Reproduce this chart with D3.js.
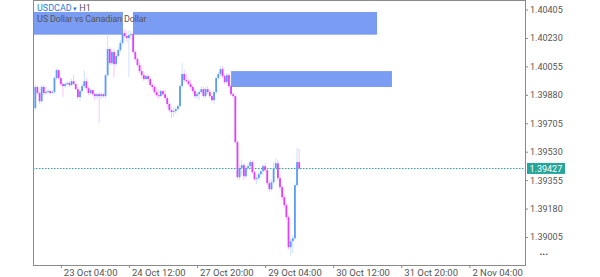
<!DOCTYPE html>
<html>
<head>
<meta charset="utf-8">
<script src="https://cdn.jsdelivr.net/npm/d3@7"></script>
<style>
body { margin: 0; background: #fff; }
svg { display: block; font-family: Roboto, "Noto Sans", sans-serif; }
</style>
</head>
<body>
<div id="chart"></div>
<script>
var width = 600;
var height = 277;

var symbol = "USDCAD";
var timeframe = "H1";
var description = "US Dollar vs Canadian Dollar";

// H1 candles, [open, high, low, close]
var ohlc = [
  [1.39798,1.39940,1.39780,1.39928],[1.39928,1.39934,1.39878,1.39891],[1.39891,1.39903,1.39823,1.39841],
  [1.39841,1.39940,1.39829,1.39928],[1.39928,1.39940,1.39878,1.39891],[1.39891,1.39934,1.39878,1.39897],
  [1.39897,1.39915,1.39884,1.39903],[1.39903,1.39909,1.39878,1.39891],[1.39891,1.39909,1.39884,1.39897],
  [1.39897,1.39995,1.39884,1.39983],[1.39983,1.40045,1.39971,1.40032],[1.40032,1.40038,1.39971,1.39983],
  [1.39983,1.39989,1.39934,1.39946],[1.39946,1.39958,1.39866,1.39934],[1.39934,1.39958,1.39921,1.39946],
  [1.39946,1.39964,1.39934,1.39952],[1.39952,1.39964,1.39928,1.39940],[1.39940,1.39977,1.39934,1.39964],
  [1.39964,1.40001,1.39940,1.39946],[1.39946,1.39952,1.39909,1.39915],[1.39915,1.39928,1.39854,1.39866],
  [1.39866,1.39915,1.39841,1.39903],[1.39903,1.39946,1.39891,1.39934],[1.39934,1.40032,1.39921,1.39964],
  [1.39964,1.39983,1.39909,1.39921],[1.39921,1.39934,1.39878,1.39891],[1.39891,1.39921,1.39878,1.39909],
  [1.39909,1.39915,1.39872,1.39884],[1.39884,1.39897,1.39847,1.39872],[1.39872,1.39891,1.39854,1.39884],
  [1.39884,1.39897,1.39706,1.39872],[1.39872,1.39897,1.39854,1.39884],[1.39884,1.39891,1.39860,1.39872],
  [1.39872,1.40008,1.39860,1.40001],[1.40001,1.40248,1.39989,1.40162],[1.40162,1.40174,1.40063,1.40075],
  [1.40075,1.40156,1.40063,1.40143],[1.40143,1.40162,1.39989,1.40069],[1.40069,1.40137,1.40057,1.40119],
  [1.40119,1.40174,1.40106,1.40156],[1.40156,1.40217,1.40143,1.40199],[1.40199,1.40266,1.40186,1.40260],
  [1.40260,1.40285,1.40229,1.40242],[1.40242,1.40273,1.40205,1.40229],[1.40229,1.40279,1.39989,1.40248],
  [1.40248,1.40273,1.40217,1.40254],[1.40254,1.40266,1.40131,1.40143],[1.40143,1.40156,1.40088,1.40100],
  [1.40100,1.40112,1.40051,1.40063],[1.40063,1.40082,1.40014,1.40026],[1.40026,1.40057,1.39983,1.40001],
  [1.40001,1.40020,1.39964,1.39977],[1.39977,1.40008,1.39971,1.39995],[1.39995,1.40008,1.39958,1.39977],
  [1.39977,1.39989,1.39928,1.39940],[1.39940,1.39952,1.39909,1.39928],[1.39928,1.39940,1.39884,1.39897],
  [1.39897,1.39921,1.39866,1.39878],[1.39878,1.39909,1.39854,1.39872],[1.39872,1.39915,1.39866,1.39903],
  [1.39903,1.39909,1.39872,1.39884],[1.39884,1.39909,1.39847,1.39860],[1.39860,1.39872,1.39798,1.39823],
  [1.39823,1.39835,1.39774,1.39786],[1.39786,1.39804,1.39737,1.39774],[1.39774,1.39804,1.39743,1.39780],
  [1.39780,1.39804,1.39761,1.39792],[1.39792,1.39823,1.39780,1.39811],[1.39811,1.39946,1.39798,1.39934],
  [1.39934,1.40075,1.39921,1.40008],[1.40008,1.40032,1.39958,1.39971],[1.39971,1.40008,1.39952,1.39964],
  [1.39964,1.39977,1.39934,1.39946],[1.39946,1.39971,1.39915,1.39928],[1.39928,1.39940,1.39891,1.39903],
  [1.39903,1.39921,1.39860,1.39872],[1.39872,1.39897,1.39854,1.39884],[1.39884,1.39909,1.39847,1.39897],
  [1.39897,1.39934,1.39884,1.39915],[1.39915,1.39928,1.39860,1.39872],[1.39872,1.39928,1.39860,1.39915],
  [1.39915,1.39934,1.39884,1.39897],[1.39897,1.39909,1.39860,1.39872],[1.39872,1.39884,1.39835,1.39847],
  [1.39847,1.39909,1.39823,1.39897],[1.39897,1.39995,1.39884,1.39983],[1.39983,1.40020,1.39971,1.40008],
  [1.40008,1.40057,1.39995,1.40038],[1.40038,1.40057,1.39983,1.39995],[1.39995,1.40008,1.39946,1.39958],
  [1.39958,1.40014,1.39952,1.40001],[1.40001,1.40014,1.39921,1.39934],[1.39934,1.39946,1.39872,1.39884],
  [1.39884,1.39897,1.39860,1.39872],[1.39872,1.39878,1.39576,1.39589],[1.39589,1.39601,1.39361,1.39373],
  [1.39373,1.39459,1.39355,1.39429],[1.39429,1.39478,1.39385,1.39447],[1.39447,1.39459,1.39355,1.39379],
  [1.39379,1.39447,1.39367,1.39429],[1.39429,1.39459,1.39416,1.39441],[1.39441,1.39478,1.39429,1.39466],
  [1.39466,1.39478,1.39392,1.39404],[1.39404,1.39416,1.39349,1.39361],[1.39361,1.39385,1.39330,1.39367],
  [1.39367,1.39404,1.39355,1.39392],[1.39392,1.39416,1.39373,1.39410],[1.39410,1.39453,1.39385,1.39441],
  [1.39441,1.39459,1.39404,1.39416],[1.39416,1.39429,1.39318,1.39336],[1.39336,1.39355,1.39281,1.39299],
  [1.39299,1.39361,1.39287,1.39342],[1.39342,1.39466,1.39330,1.39429],[1.39429,1.39490,1.39416,1.39459],
  [1.39459,1.39478,1.39349,1.39367],[1.39367,1.39385,1.39293,1.39312],[1.39312,1.39324,1.39231,1.39250],
  [1.39250,1.39268,1.39182,1.39201],[1.39201,1.39213,1.39108,1.39127],[1.39127,1.39139,1.38930,1.38942],
  [1.38942,1.38997,1.38887,1.38979],[1.38979,1.39016,1.38905,1.38997],[1.38997,1.39336,1.38985,1.39324],
  [1.39324,1.39552,1.39312,1.39466],[1.39466,1.39546,1.39416,1.39427]
];

// time axis: bar index of each label
var timeTickBars = [12, 44, 76, 108, 140, 172, 204];
var timeTickLabels = ["23 Oct 04:00", "24 Oct 12:00", "27 Oct 20:00", "29 Oct 04:00",
                      "30 Oct 12:00", "31 Oct 20:00", "2 Nov 04:00"];

var priceTicks = [1.39005, 1.39180, 1.39355, 1.39530, 1.39705, 1.39880, 1.40055, 1.40230, 1.40405];
var lastPrice = 1.39427;

// zones: [from bar, to bar, top price, bottom price]
var zones = [
  [-2, 41.2, 1.40390, 1.40250],
  [45.9, 160.6, 1.40390, 1.40250],
  [92.0, 167.6, 1.40026, 1.39928]
];

var upColor = "#5b9cf6";
var downColor = "#e040fb";

var plot = {left: 33, right: 525, top: 0, bottom: 265};

var svg = d3.select("#chart")
    .append("svg")
    .attr("width", width)
    .attr("height", height);

var x = d3.scaleLinear()
    .domain([-1.08, 230.12])
    .range([plot.left, plot.right]);

var y = d3.scaleLinear()
    .domain([1.388327, 1.404635])
    .range([plot.bottom, plot.top]);

svg.append("defs").append("clipPath")
    .attr("id", "plot-clip")
    .append("rect")
    .attr("x", plot.left)
    .attr("y", plot.top)
    .attr("width", plot.right - plot.left)
    .attr("height", plot.bottom - plot.top);

var inner = svg.append("g").attr("clip-path", "url(#plot-clip)");

// zones
inner.selectAll(".zone")
    .data(zones)
    .enter()
    .append("rect")
        .attr("class", "zone")
        .attr("x", d => x(d[0]))
        .attr("y", d => y(d[2]))
        .attr("width", d => x(d[1]) - x(d[0]))
        .attr("height", d => y(d[3]) - y(d[2]))
        .style("fill", "#7a9cf2");

// last price line
inner.append("line")
    .attr("x1", plot.left)
    .attr("x2", plot.right)
    .attr("y1", Math.round(y(lastPrice)) + 0.5)
    .attr("y2", Math.round(y(lastPrice)) + 0.5)
    .style("stroke", "#26a69a")
    .style("stroke-width", 1)
    .style("stroke-dasharray", "1.5,1.5");

// candles
var candle = inner.append("g")
    .selectAll("g")
    .data(ohlc)
    .enter()
    .append("g");

candle.append("line")
    .attr("x1", (d, i) => x(i))
    .attr("x2", (d, i) => x(i))
    .attr("y1", d => y(d[1]))
    .attr("y2", d => y(d[2]))
    .style("stroke", d => d[3] >= d[0] ? upColor : downColor)
    .style("stroke-opacity", 0.3)
    .style("stroke-width", 1);

candle.append("rect")
    .attr("x", (d, i) => x(i) - 0.9)
    .attr("width", 1.8)
    .attr("y", d => y(Math.max(d[0], d[3])))
    .attr("height", d => Math.max(0.8, Math.abs(y(d[0]) - y(d[3]))))
    .style("fill", d => d[3] >= d[0] ? upColor : downColor);

// frame
svg.append("rect")
    .attr("x", plot.left + 0.5)
    .attr("y", plot.top + 0.5)
    .attr("width", plot.right - plot.left)
    .attr("height", plot.bottom - plot.top)
    .style("fill", "none")
    .style("stroke", "#8a8a8a")
    .style("stroke-width", 1);

// price axis
var yAxis = svg.append("g")
    .attr("transform", "translate(" + (plot.right + 0.5) + ",0)")
    .call(d3.axisRight(y)
        .tickValues(priceTicks)
        .tickFormat(d3.format(".5f"))
        .tickSize(2.5)
        .tickPadding(2));
yAxis.select(".domain").remove();
yAxis.selectAll("line").style("stroke", "#8a8a8a");
yAxis.selectAll("text")
    .style("font-family", "Roboto, sans-serif")
    .style("font-size", "9px")
    .style("fill", "#555");

// time axis
var xAxis = svg.append("g")
    .attr("transform", "translate(0," + (plot.bottom + 0.5) + ")")
    .call(d3.axisBottom(x)
        .tickValues(timeTickBars)
        .tickFormat((d, i) => timeTickLabels[i])
        .tickSize(2.5)
        .tickPadding(1));
xAxis.select(".domain").remove();
xAxis.selectAll("line").style("stroke", "#8a8a8a");
xAxis.selectAll("text")
    .attr("text-anchor", "start")
    .attr("dx", 2.5)
    .style("font-family", "Roboto, sans-serif")
    .style("font-size", "9.5px")
    .style("fill", "#555");

// last price badge
var badge = svg.append("g")
    .attr("transform", "translate(" + (plot.right + 2) + "," + y(lastPrice) + ")");
badge.append("rect")
    .attr("x", 0)
    .attr("y", -5.5)
    .attr("width", 38)
    .attr("height", 11)
    .style("fill", "#26a69a");
badge.append("text")
    .attr("x", 2.5)
    .attr("y", 3.3)
    .text(d3.format(".5f")(lastPrice))
    .style("font-size", "9px")
    .style("fill", "#fff");

// more menu
svg.append("text")
    .attr("x", 544)
    .attr("y", 257)
    .attr("text-anchor", "middle")
    .text("•••")
    .style("font-size", "7px")
    .style("letter-spacing", "0.5px")
    .style("fill", "#333");

// header
var title = svg.append("text")
    .attr("x", 37)
    .attr("y", 11)
    .style("font-size", "9px");
title.append("tspan").text(symbol).style("fill", "#2a7be4");
title.append("tspan").text(" ▾ ").style("fill", "#2a7be4").style("font-size", "7px");
title.append("tspan").text(timeframe).style("fill", "#555");

svg.append("text")
    .attr("x", 37)
    .attr("y", 21.5)
    .text(description)
    .style("font-size", "9px")
    .style("letter-spacing", "-0.15px")
    .style("fill", "#555");
</script>
</body>
</html>
